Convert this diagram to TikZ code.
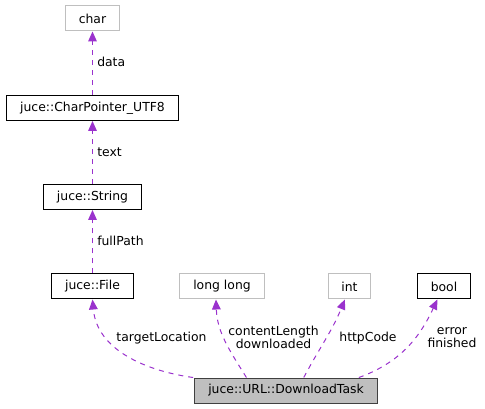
\documentclass[tikz,border=0pt]{standalone}
\usepackage{fontspec}
\setmainfont{DejaVu Sans}
\usetikzlibrary{arrows.meta}
\definecolor{edgepurple}{HTML}{9A32CD}
\definecolor{boxgray}{HTML}{BFBFBF}
\definecolor{boxdark}{HTML}{404040}
\tikzstyle{classbox}=[rectangle,draw=black,fill=white,line width=0.75pt,minimum height=18.75pt,inner xsep=10pt,inner ysep=0pt,font=\fontsize{9.3}{11}\selectfont]
\tikzstyle{plainbox}=[classbox,draw=boxgray]
\tikzstyle{mainbox}=[classbox,draw=boxdark,fill=boxgray]
\tikzstyle{member} = [draw=edgepurple,line width=0.75pt,dash pattern=on 3.75pt off 3.75pt,-{Triangle[length=7.5pt,width=6.5pt,fill=edgepurple]}]
\tikzstyle{weight} = [font=\fontsize{9.3}{9.8}\selectfont,inner sep=0pt,align=center]

\begin{document}
\begin{tikzpicture}[x=0.75pt,y=-0.75pt]
   \useasboundingbox (0,0) rectangle (485,409);

    \foreach \pos/\name/\label/\kind in {{(92.5,18.5)/char/char/plainbox}, {(92.5,108)/utf/juce::CharPointer\_UTF8/classbox},
            {(92.5,197)/str/juce::String/classbox}, {(92.5,286.5)/file/juce::File/classbox},
            {(222,286.5)/ll/long long/plainbox}, {(349.5,286.5)/int/int/plainbox},
            {(444,286.5)/bool/bool/classbox}, {(286,390.5)/task/juce::URL::DownloadTask/mainbox}}
            \node[\kind] (\name) at \pos {\label};

   % members
    \foreach \source/\dest in {utf/char, str/utf, file/str}
        \path[member] (\source) -- (\dest);
   \path[member] ([xshift=-1pt]task.north west) to[out=172,in=-85] (file.south);
   \path[member] ([xshift=39pt]task.north west) to[out=122,in=-88] ([xshift=-4.5pt]ll.south);
   \path[member] ([xshift=82pt]task.north west) to[out=62,in=-112] ([xshift=-3.5pt]int.south);
   \path[member] ([xshift=-14pt]task.north east) to[out=20,in=-115] ([xshift=-5pt]bool.south);

   % labels
   \node[weight,anchor=west] (ldata) at (97,62) {data};
   \node[weight,anchor=west] (ltext) at (97,152) {text};
   \node[weight,anchor=west] (lpath) at (97,240.5) {fullPath};
   \node[weight] (ltarget) at (161.5,338) {targetLocation};
   \node[weight] (llength) at (273.5,337.5) {contentLength\\downloaded};
   \node[weight] (lcode) at (368,338) {httpCode};
   \node[weight] (lflags) at (452,337.5) {error\\finished};

\end{tikzpicture}
\end{document}
